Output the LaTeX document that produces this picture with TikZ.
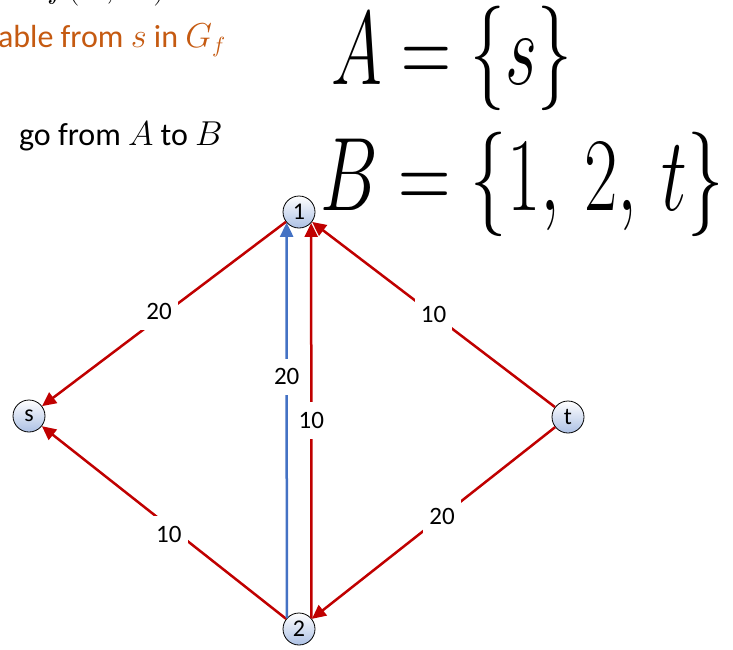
\documentclass[tikz,border=0pt]{standalone}
\usepackage{fontspec}
\setmainfont{Carlito}
\usepackage{tikz}
\usetikzlibrary{arrows.meta, positioning}
\usepackage{xcolor}

\definecolor{edgered}{HTML}{C00000}
\definecolor{edgeblue}{HTML}{4472C4}
\definecolor{slideorange}{HTML}{C55A11}
\definecolor{nodeblue}{RGB}{172,192,228}

\begin{document}
\begin{tikzpicture}[
    x=0.5pt, y=-0.5pt,
    every node/.style={font=\fontsize{12.5}{14}\selectfont},
    vertex/.style={
        circle,
        draw=black,
        thin,
        top color=white,
        bottom color=nodeblue,
        minimum size=16pt,
        inner sep=0pt,
        font=\fontsize{12}{12}\selectfont
    },
    lbl/.style={
        fill=white,
        inner xsep=3pt,
        inner ysep=5pt
    },
    redarrow/.style={
        -{Triangle[length=7pt,width=6.5pt]},
        draw=edgered,
        line width=1.25pt
    },
    bluearrow/.style={
        -{Triangle[length=7pt,width=6.5pt]},
        draw=edgeblue,
        line width=1.25pt
    },
    slidetext/.style={
        anchor=base west,
        font=\fontsize{16}{19}\selectfont
    },
    hand/.style={
        font=\fontsize{24.88}{26}\selectfont
    }
]
\useasboundingbox (0,0) rectangle (733,649);

% Slide text
\node[slidetext, font=\fontsize{18}{20}\selectfont] (top) at (40,-3) {$f(A,\,B)$};
\node[slidetext, text=slideorange] (reach) at (-9,47) {able from $s$ in $G_f$};
\node[slidetext] (gofrom) at (12,145) {go from $A$ to $B$};

% Handwritten notes
\node[hand] (setA) at (452,58) {\scalebox{1.39}[2.1]{$A=\{s\}$}};
\node[hand] (setB) at (522,184) {\scalebox{1.46}[2.1]{$B=\{1,\,2,\,t\}$}};

% Vertices
\node[vertex] (n1) at (299,212) {1};
\node[vertex] (s) at (29,416) {s};
\node[vertex] (t) at (568,417) {t};
\node[vertex] (n2) at (299,629) {2};

% Edges
\draw[redarrow] (n1) -- node[lbl, pos=0.52, yshift=3pt] {20} (s);
\draw[redarrow] (n2) -- node[lbl, pos=0.48, yshift=-4pt] {10} (s);
\draw[redarrow] (t) -- node[lbl, pos=0.5] {10} (n1);
\draw[redarrow] (t) -- node[lbl, pos=0.465] {20} (n2);

\draw[bluearrow] (n2.138.6) -- node[lbl, pos=0.61] {20} (n1.221.4);
\draw[redarrow] (n2.41.4) -- node[lbl, pos=0.5] {10} (n1.318.6);

\end{tikzpicture}
\end{document}
